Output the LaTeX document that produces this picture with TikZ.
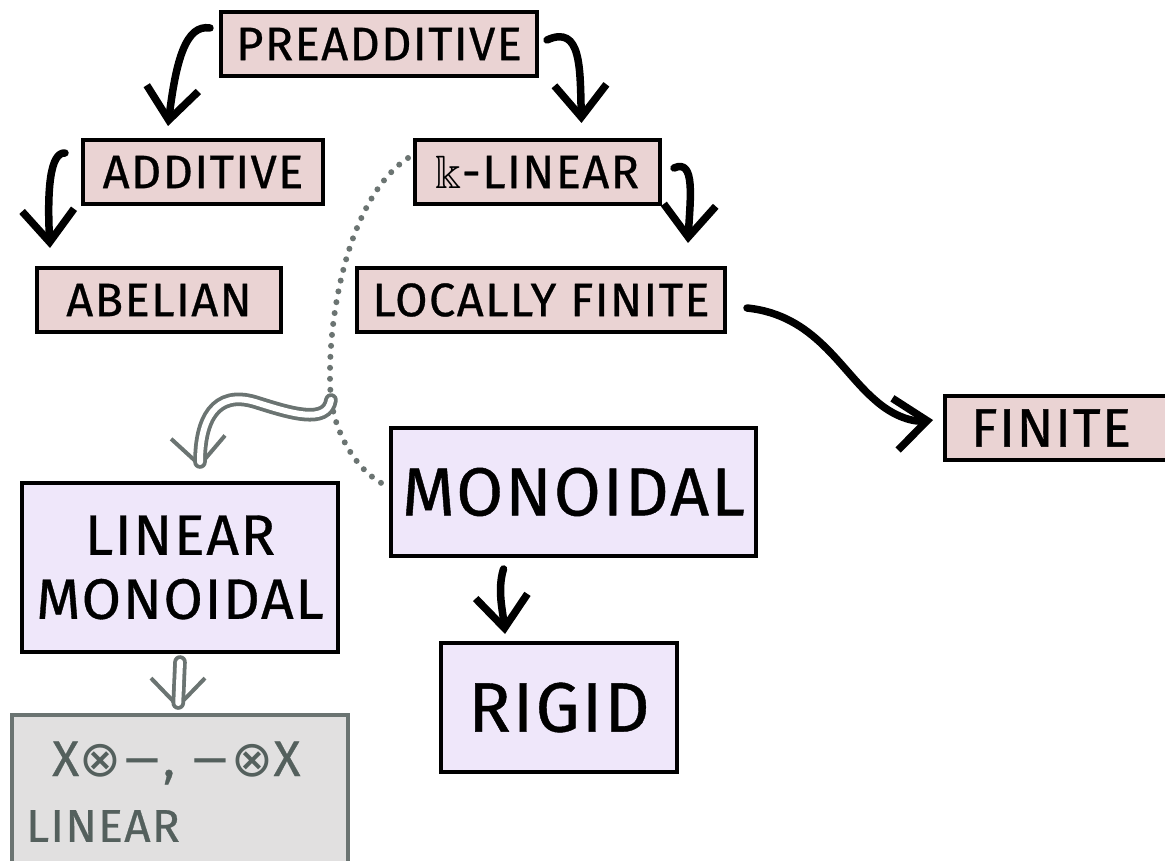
\documentclass[tikz,border=0pt]{standalone}
\usepackage{fontspec}
\usepackage{amssymb}
\setmainfont{Fira Sans}[LetterSpace=3, FakeBold=0.6]
\newfontfamily\symfont{DejaVu Sans}
\usetikzlibrary{arrows.meta}
\definecolor{pinkfill}{HTML}{EAD3D3}
\definecolor{lavfill}{HTML}{EFE7FA}
\definecolor{grayfill}{HTML}{E1E0E0}
\definecolor{grayline}{HTML}{6B7472}
\definecolor{graytext}{HTML}{54605D}
\tikzset{
  pinkbox/.style={draw=black, line width=4pt, fill=pinkfill, inner sep=0pt,
    font=\fontsize{47}{50}\selectfont},
  lavbox/.style={draw=black, line width=4pt, fill=lavfill, inner sep=0pt, align=center},
  graybox/.style={draw=grayline, line width=4pt, fill=grayfill, inner sep=0pt},
  grayword/.style={text=graytext, inner sep=0pt, anchor=west},
  blackarrow/.style={draw=black, line width=7.5pt, line cap=round, line join=round,
    -{Straight Barb[length=32pt,width=52pt,line width=7.5pt]}},
  dblshaft/.style={draw=grayline, line width=3.8pt, double=white, double distance=6pt,
    line cap=round, shorten >=6pt},
  grayhead/.style={draw=grayline, line width=4pt, line cap=round, line join=round,
    -{Straight Barb[length=28pt,width=54pt,line width=4pt]}},
  dotline/.style={draw=grayline, line width=6pt, line cap=round, dash pattern=on 0pt off 11pt}
}
\begin{document}
\begin{tikzpicture}[x=1pt,y=-1pt]
\useasboundingbox (0,0) rectangle (1165,861);

% pink boxes
\node[pinkbox, minimum width=316pt, minimum height=64pt] (pre) at (379,44) {PREADDITIVE};
\node[pinkbox, minimum width=240pt, minimum height=64pt] (add) at (203,172) {ADDITIVE};
\node[pinkbox, minimum width=245pt, minimum height=64pt] (klin) at (537.5,172) {\(\Bbbk\)-LINEAR};
\node[pinkbox, minimum width=244pt, minimum height=64pt] (abel) at (159,300) {ABELIAN};
\node[pinkbox, minimum width=368pt, minimum height=64pt] (loc) at (541,300) {LOCALLY FINITE};
\node[pinkbox, minimum width=236pt, minimum height=64pt, text width=220pt, align=left,
  font=\fontsize{54}{58}\selectfont] (fin) at (1063,428) {\hspace*{18pt}FINITE};

% lavender boxes
\node[lavbox, minimum width=365pt, minimum height=128pt, font=\fontsize{68}{72}\selectfont] (mono) at (573.5,492) {MONOIDAL};
\node[lavbox, minimum width=316pt, minimum height=169pt, font=\fontsize{57}{64}\selectfont] (lmono) at (180,567.5) {LINEAR\\MONOIDAL};
\node[lavbox, minimum width=236pt, minimum height=129pt, font=\fontsize{70}{74}\selectfont] (rigid) at (559,707.5) {RIGID};

% gray box
\node[graybox, minimum width=336pt, minimum height=160pt] (lin) at (180,795) {};
\node[grayword, font=\fontsize{50}{54}\selectfont] (lin1) at (52,763) {X{\symfont ⊗}{\symfont −}, {\symfont −}{\symfont ⊗}X};
\node[grayword, font=\fontsize{46}{50}\selectfont] (lin2) at (26,826) {LINEAR};

% black arrows
\draw[blackarrow] ([shift={(-9,-16)}]pre.west) .. controls (186,24) and (176,60) .. ([shift={(-35,-12)}]add.north);
\draw[blackarrow] ([shift={(8,-4)}]pre.east) .. controls (582,24) and (580,70) .. ([shift={(44,-15)}]klin.north);
\draw[blackarrow] ([shift={(-16,-19)}]add.west) .. controls (50,152) and (47,190) .. ([shift={(-109,-18)}]abel.north);
\draw[blackarrow] ([shift={(12,-4)}]klin.east) .. controls (696,158) and (690,200) .. ([shift={(147,-23)}]loc.north);
\draw[blackarrow] ([shift={(20,8)}]loc.east) .. controls (815,315) and (840,370) .. (875,400) .. controls (895,418) and (915,422) .. ([shift={(-10,-8)}]fin.west);
\draw[blackarrow] ([shift={(-70,11)}]mono.south) .. controls (497,590) and (503,612) .. ([shift={(-54,-7)}]rigid.north);

% dotted arc
\draw[dotline] ([shift={(-5,-14)}]klin.west) .. controls (345,200) and (325,330) .. (331,400) coordinate (junc) .. controls (337,440) and (360,472) .. ([shift={(-6,-8)}]mono.west);

% gray double arrows
\coordinate (wavetip) at ([shift={(20,-13)}]lmono.north);
\coordinate (dbltip) at ([shift={(-2,-4)}]lin.north);
\draw[grayhead] ([shift={(-1,-16)}]wavetip) -- (wavetip);
\draw[dblshaft] (junc) .. controls (327,425) and (290,413) .. (255,402) .. controls (215,390) and (200,420) .. (wavetip);
\draw[grayhead] ([shift={(0,-16)}]dbltip) -- (dbltip);
\draw[dblshaft] ([shift={(0,8)}]lmono.south) -- (dbltip);
\end{tikzpicture}
\end{document}
